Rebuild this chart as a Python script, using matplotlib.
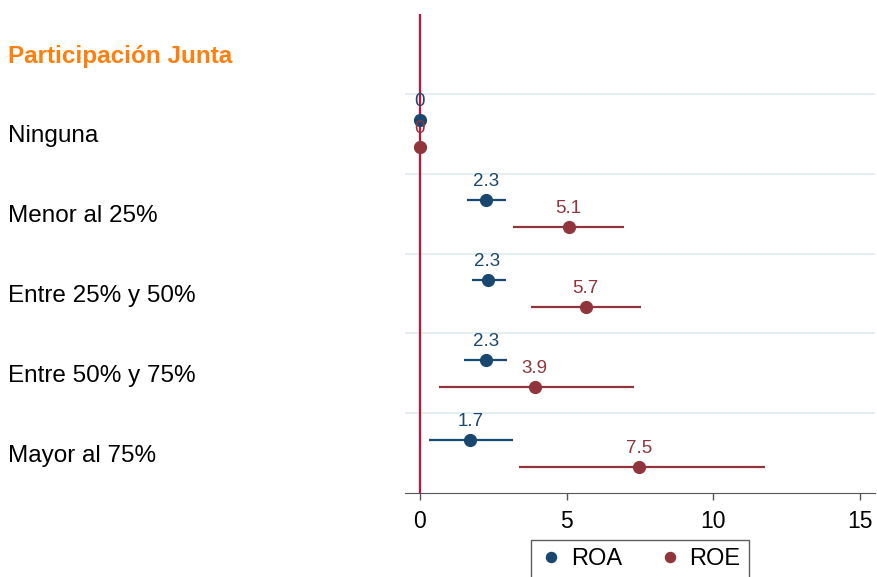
import numpy as np
import matplotlib.pyplot as plt
from matplotlib.transforms import blended_transform_factory

plt.rcParams['font.family'] = ['Liberation Sans', 'DejaVu Sans']

header = "Participación Junta"
categories = ["Ninguna", "Menor al 25%", "Entre 25% y 50%", "Entre 50% y 75%", "Mayor al 75%"]

roa = [0.0, 2.27, 2.31, 2.27, 1.72]
roa_lo = [0.0, 1.60, 1.77, 1.50, 0.31]
roa_hi = [0.0, 2.93, 2.93, 2.98, 3.17]

roe = [0.0, 5.07, 5.65, 3.91, 7.48]
roe_lo = [0.0, 3.17, 3.78, 0.66, 3.37]
roe_hi = [0.0, 6.97, 7.52, 7.31, 11.76]

roa_lab = ["0", "2.3", "2.3", "2.3", "1.7"]
roe_lab = ["0", "5.1", "5.7", "3.9", "7.5"]

navy = "#1a476f"
maroon = "#90353b"

fig = plt.figure(figsize=(8.77, 5.77), dpi=100)
ax = fig.add_axes([405 / 877, 1 - 493 / 577, 470 / 877, 479 / 577])

rows = np.arange(1, len(categories) + 1)
y_roa = rows - 0.17
y_roe = rows + 0.17

# gridlines between groups
for g in np.arange(0.5, len(categories), 1.0):
    ax.axhline(g, color="#e4eef0", lw=1.5, zorder=0)

ax.axvline(0, color="#cc0f3a", lw=1.6, zorder=1)

ax.hlines(y_roa, roa_lo, roa_hi, color=navy, lw=1.6, zorder=2)
ax.hlines(y_roe, roe_lo, roe_hi, color=maroon, lw=1.6, zorder=2)
ax.plot(roa, y_roa, 'o', color=navy, ms=8.5, zorder=3, label="ROA", ls='none')
ax.plot(roe, y_roe, 'o', color=maroon, ms=8.5, zorder=3, label="ROE", ls='none')

for x, y, t in zip(roa, y_roa, roa_lab):
    ax.text(x, y - 0.23, t, color=navy, fontsize=13.5, ha='center', va='center', zorder=4)
for x, y, t in zip(roe, y_roe, roe_lab):
    ax.text(x, y - 0.23, t, color=maroon, fontsize=13.5, ha='center', va='center', zorder=4)

ax.set_xlim(-0.5, 15.5)
ax.set_ylim(5.5, -0.5)
ax.set_xticks([0, 5, 10, 15])
ax.tick_params(axis='x', labelsize=16.5, length=5, width=1, color="#555555", pad=7)
ax.set_yticks([])
for s in ['left', 'right', 'top']:
    ax.spines[s].set_visible(False)
ax.spines['bottom'].set_color("#555555")

# row labels on the left
tr = blended_transform_factory(fig.transFigure, ax.transData)
fig.text(8 / 877, 0, header, transform=tr, color="#ff7f0e", fontsize=17.5,
         fontweight='bold', ha='left', va='center_baseline')
for r, c in zip(rows, categories):
    fig.text(8 / 877, r, c, transform=tr, color="black", fontsize=17.5,
             ha='left', va='center_baseline')

leg = ax.legend(loc='upper center', bbox_to_anchor=(0.5, -0.098), ncol=2, fontsize=17,
                frameon=True, fancybox=False, handletextpad=0.35, columnspacing=1.5,
                borderpad=0.35, borderaxespad=0, handlelength=1.0, markerscale=0.85)
leg.get_frame().set_edgecolor("#333333")
leg.get_frame().set_linewidth(1.0)

fig.savefig("out.png", dpi=100)
